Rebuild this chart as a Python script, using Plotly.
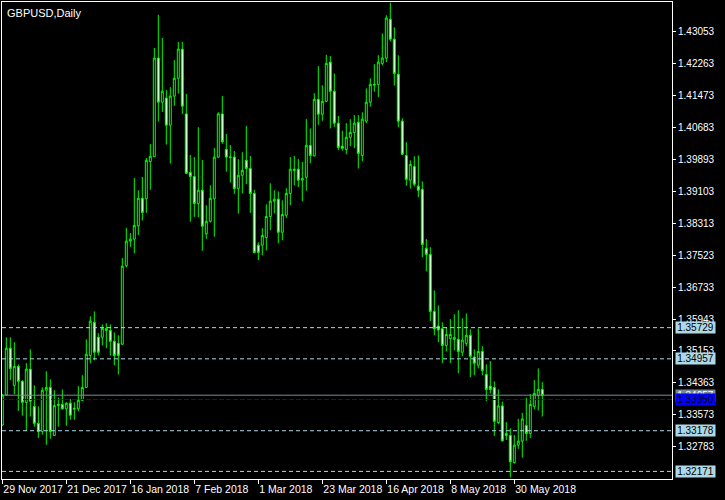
import plotly.graph_objects as go

opens = [1.3332,1.3406,1.3522,1.3430,1.3477,1.3440,1.3388,1.3470,1.3378,1.3336,
         1.3316,1.3418,1.3425,1.3306,1.3380,1.3383,1.3372,1.3386,1.3371,1.3372,
         1.3393,1.3425,1.3504,1.3586,1.3549,1.3549,1.3566,1.3566,1.3539,1.3534,
         1.3532,1.3726,1.3787,1.3792,1.3825,1.3893,1.3892,1.3984,1.3996,1.4240,
         1.4131,1.4141,1.4074,1.4146,1.4190,1.4262,1.4102,1.3957,1.3947,1.3880,
         1.3913,1.3805,1.3836,1.3892,1.3995,1.4102,1.4014,1.3994,1.3995,1.3917,
         1.3950,1.3987,1.3967,1.3905,1.3777,1.3777,1.3796,1.3848,1.3886,1.3891,
         1.3809,1.3851,1.3905,1.3962,1.3965,1.3938,1.3945,1.4024,1.3998,1.4138,
         1.4101,1.4133,1.4230,1.4158,1.4079,1.4022,1.4014,1.4044,1.4056,1.4081,
         1.3999,1.4084,1.4131,1.4173,1.4175,1.4227,1.4240,1.4336,1.4287,1.4200,
         1.4084,1.3999,1.3938,1.3972,1.3923,1.3915,1.3769,1.3754,1.3613,1.3577,
         1.3570,1.3529,1.3546,1.3544,1.3544,1.3512,1.3534,1.3554,1.3500,1.3480,
         1.3514,1.3457,1.3428,1.3425,1.3338,1.3379,1.3306,1.3306,1.3239,1.3282,
         1.3292,1.3331,1.3311,1.3378,1.3405,1.3420]
highs = [1.3409,1.3549,1.3549,1.3537,1.3482,1.3443,1.3485,1.3519,1.3430,1.3378,
         1.3425,1.3465,1.3445,1.3418,1.3400,1.3420,1.3388,1.3396,1.3388,1.3428,
         1.3455,1.3544,1.3601,1.3613,1.3559,1.3581,1.3584,1.3581,1.3561,1.3554,
         1.3745,1.3820,1.3807,1.3943,1.3913,1.3946,1.3993,1.4027,1.4265,1.4347,
         1.4290,1.4161,1.4168,1.4235,1.4280,1.4280,1.4151,1.4000,1.3995,1.4069,
         1.3988,1.3876,1.3925,1.4018,1.4106,1.4146,1.4052,1.4025,1.4010,1.3990,
         1.4007,1.4072,1.3998,1.3914,1.3784,1.3819,1.3878,1.3930,1.3913,1.3910,
         1.3888,1.3918,1.3995,1.3998,1.3990,1.3983,1.4089,1.4066,1.4153,1.4220,
         1.4173,1.4248,1.4245,1.4202,1.4097,1.4060,1.4079,1.4089,1.4099,1.4099,
         1.4106,1.4165,1.4190,1.4225,1.4247,1.4301,1.4346,1.4377,1.4316,1.4247,
         1.4091,1.4032,1.3987,1.3997,1.3999,1.3935,1.3792,1.3772,1.3665,1.3628,
         1.3586,1.3574,1.3594,1.3606,1.3616,1.3596,1.3608,1.3569,1.3519,1.3571,
         1.3527,1.3482,1.3490,1.3440,1.3420,1.3390,1.3339,1.3324,1.3307,1.3347,
         1.3362,1.3399,1.3408,1.3443,1.3472,1.3438]
lows = [1.3330,1.3405,1.3443,1.3408,1.3367,1.3355,1.3317,1.3353,1.3328,1.3300,
        1.3308,1.3283,1.3298,1.3305,1.3328,1.3370,1.3330,1.3345,1.3345,1.3366,
        1.3391,1.3424,1.3485,1.3492,1.3504,1.3529,1.3522,1.3504,1.3480,1.3457,
        1.3530,1.3722,1.3773,1.3757,1.3802,1.3838,1.3857,1.3914,1.3995,1.4083,
        1.4107,1.4026,1.3979,1.4122,1.4152,1.4102,1.3954,1.3835,1.3847,1.3846,
        1.3763,1.3793,1.3833,1.3798,1.3994,1.4028,1.3959,1.3932,1.3904,1.3855,
        1.3905,1.3928,1.3857,1.3757,1.3740,1.3752,1.3764,1.3814,1.3856,1.3782,
        1.3789,1.3844,1.3876,1.3925,1.3921,1.3886,1.3912,1.3980,1.3997,1.4075,
        1.4085,1.4131,1.4066,1.4070,1.4012,1.4011,1.4002,1.4022,1.4017,1.3967,
        1.3985,1.4079,1.4120,1.4157,1.4144,1.4222,1.4230,1.4282,1.4172,1.4069,
        1.4001,1.3924,1.3917,1.3922,1.3896,1.3747,1.3712,1.3589,1.3554,1.3537,
        1.3485,1.3514,1.3485,1.3517,1.3460,1.3502,1.3527,1.3450,1.3455,1.3472,
        1.3455,1.3391,1.3410,1.3305,1.3334,1.3291,1.3295,1.3202,1.3236,1.3273,
        1.3251,1.3293,1.3300,1.3371,1.3368,1.3353]
closes = [1.3406,1.3522,1.3472,1.3477,1.3440,1.3388,1.3470,1.3391,1.3336,1.3316,
          1.3418,1.3425,1.3316,1.3380,1.3383,1.3372,1.3386,1.3356,1.3373,1.3393,
          1.3425,1.3507,1.3589,1.3512,1.3512,1.3571,1.3571,1.3539,1.3504,1.3504,
          1.3725,1.3787,1.3792,1.3826,1.3893,1.3858,1.3987,1.3997,1.4240,1.4131,
          1.4158,1.4074,1.4146,1.4190,1.4262,1.4121,1.3955,1.3947,1.3880,1.3913,
          1.3824,1.3836,1.3893,1.3995,1.4102,1.4033,1.3995,1.3995,1.3917,1.3950,
          1.3962,1.3967,1.3905,1.3759,1.3759,1.3801,1.3848,1.3886,1.3891,1.3809,
          1.3853,1.3905,1.3965,1.3965,1.3938,1.3942,1.4024,1.3999,1.4138,1.4101,
          1.4133,1.4227,1.4158,1.4079,1.4019,1.4017,1.4044,1.4056,1.4079,1.4004,
          1.4089,1.4131,1.4175,1.4175,1.4230,1.4240,1.4339,1.4287,1.4202,1.4084,
          1.4002,1.3940,1.3977,1.3928,1.3913,1.3779,1.3754,1.3613,1.3570,1.3567,
          1.3529,1.3556,1.3556,1.3549,1.3514,1.3542,1.3554,1.3502,1.3485,1.3514,
          1.3467,1.3420,1.3420,1.3341,1.3379,1.3293,1.3311,1.3241,1.3282,1.3292,
          1.3347,1.3311,1.3383,1.3410,1.3420,1.3405]

tick_index = [0, 16, 32, 48, 64, 80, 96, 112, 128]
tick_labels = ["29 Nov 2017", "21 Dec 2017", "16 Jan 2018", "7 Feb 2018", "1 Mar 2018",
               "23 Mar 2018", "16 Apr 2018", "8 May 2018", "30 May 2018"]
price_ticks = [1.43053, 1.42263, 1.41473, 1.40683, 1.39893, 1.39103, 1.38313,
               1.37523, 1.36733, 1.35943, 1.35153, 1.34363, 1.33573, 1.32783]
level_lines = [1.35729, 1.34957, 1.33178, 1.32171]
bid_level = 1.34057
blue_level = 1.33950

x = list(range(len(opens)))
FONT = "Liberation Sans"

fig = go.Figure(go.Candlestick(
    x=x, open=opens, high=highs, low=lows, close=closes,
    increasing=dict(line=dict(color="#00FF00", width=1), fillcolor="#000000"),
    decreasing=dict(line=dict(color="#00FF00", width=1), fillcolor="#FFFFFF"),
    hoverinfo="skip", showlegend=False,
))

shapes = []
annotations = []
for lv in level_lines:
    shapes.append(dict(type="line", xref="paper", x0=0, x1=1, yref="y", y0=lv, y1=lv,
                       line=dict(color="#ADD8E6", width=1, dash="4px,3px"), layer="above"))
shapes.append(dict(type="line", xref="paper", x0=0, x1=1, yref="y", y0=bid_level, y1=bid_level,
                   line=dict(color="#778899", width=1), layer="above"))
shapes.append(dict(type="line", xref="paper", x0=0, x1=1, yref="y", y0=blue_level, y1=blue_level,
                   line=dict(color="#0000FF", width=1, dash="5px,2px"), layer="above"))

def box(lv, bg, fg):
    return dict(x=1, xref="paper", xanchor="left", xshift=3, y=lv, yref="y", yanchor="middle",
                text=f"{lv:.5f}", showarrow=False, bgcolor=bg, borderpad=0,
                width=39, height=11, font=dict(family=FONT, size=10, color=fg))

for lv in level_lines:
    annotations.append(box(lv, "#ADD8E6", "#000000"))
annotations.append(box(bid_level, "#778899", "#FFFFFF"))
annotations.append(box(blue_level, "#0000FF", "#000000"))
annotations.append(dict(x=0, xref="paper", xanchor="left", xshift=3, y=1, yref="paper",
                        yanchor="top", yshift=-3, text="GBPUSD,Daily", showarrow=False,
                        font=dict(family=FONT, size=11, color="#FFFFFF")))

fig.update_layout(
    width=725, height=500,
    margin=dict(l=2, r=53, t=2, b=21, autoexpand=False),
    paper_bgcolor="#000000", plot_bgcolor="#000000",
    font=dict(family=FONT, size=10, color="#FFFFFF"),
    shapes=shapes, annotations=annotations,
    showlegend=False,
    xaxis=dict(range=[-0.075, 167.43], rangeslider=dict(visible=False),
               tickmode="array", tickvals=tick_index, ticktext=tick_labels,
               ticks="outside", ticklen=4, tickcolor="#FFFFFF", tickangle=0,
               ticklabelposition="outside right", automargin=False,
               showgrid=False, zeroline=False, showline=True, mirror=True,
               linecolor="#FFFFFF", linewidth=1,
               tickfont=dict(family=FONT, size=10.5, color="#FFFFFF")),
    yaxis=dict(range=[1.31983, 1.43789], side="right", automargin=False,
               tickmode="array", tickvals=price_ticks,
               ticktext=[f"{v:.5f}" for v in price_ticks],
               ticks="outside", ticklen=3, tickcolor="#FFFFFF",
               showgrid=False, zeroline=False, showline=True, mirror=True,
               linecolor="#FFFFFF", linewidth=1,
               tickfont=dict(family=FONT, size=10, color="#FFFFFF")),
)

fig.write_html("out.html", config={"displayModeBar": False},
               post_script="document.body.style.margin='0';document.body.style.background='#000';")
